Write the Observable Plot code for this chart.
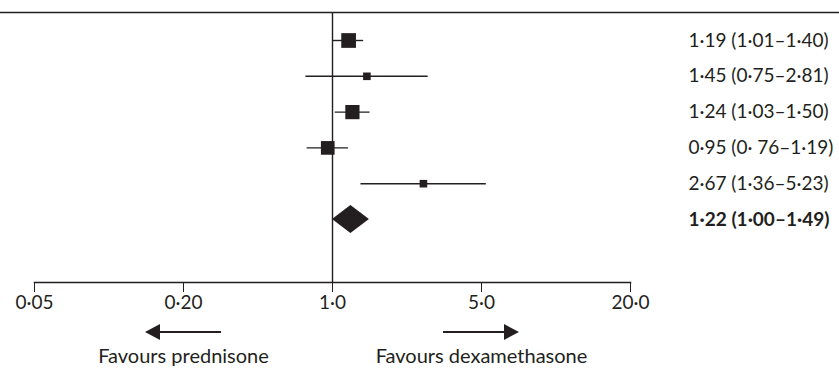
<!DOCTYPE html>
<html>
<head>
<meta charset="utf-8">
<script src="https://cdn.jsdelivr.net/npm/d3@7"></script>
<script src="https://cdn.jsdelivr.net/npm/@observablehq/plot@0.6"></script>
<style>
  html, body { margin: 0; padding: 0; background: #fff; }
</style>
</head>
<body>
<div id="chart"></div>
<script>
// Hazard ratios (95% CI) per study, dexamethasone vs prednisone
const studyEst = [1.19, 1.45, 1.24, 0.95, 2.67];
const studyLow = [1.01, 0.75, 1.03, 0.76, 1.36];
const studyHigh = [1.40, 2.81, 1.50, 1.19, 5.23];
const studyWeight = [30, 8, 28, 26, 8];

// Pooled estimate
const pooledEst = 1.22;
const pooledLow = 1.00;
const pooledHigh = 1.49;

// Text shown to the right of each row
const rowLabels = [
  "1·19 (1·01–1·40)",
  "1·45 (0·75–2·81)",
  "1·24 (1·03–1·50)",
  "0·95 (0· 76–1·19)",
  "2·67 (1·36–5·23)",
  "1·22 (1·00–1·49)"
];

// Axis ticks
const tickValues = [0.05, 0.2, 1, 5, 20];
const tickLabels = ["0·05", "0·20", "1·0", "5·0", "20·0"];

// Direction annotations under the axis
const favourLabels = ["Favours prednisone", "Favours dexamethasone"];
const favourAt = [0.2, 5];
const favourDir = [-1, 1];

const ink = "#231f20";

const studies = studyEst.map((est, i) => ({
  row: i, est, lo: studyLow[i], hi: studyHigh[i], w: studyWeight[i], label: rowLabels[i]
}));
const pooledRow = studies.length;
const halfH = 0.39; // half-height of the pooled diamond, in rows
const diamond = [
  {x: pooledLow, y1: pooledRow, y2: pooledRow},
  {x: pooledEst, y1: pooledRow - halfH, y2: pooledRow + halfH},
  {x: pooledHigh, y1: pooledRow, y2: pooledRow}
];
const ticks = tickValues.map((v, i) => ({v, label: tickLabels[i]}));
const favours = favourLabels.map((label, i) => ({label, at: favourAt[i], dir: favourDir[i]}));

const chart = Plot.plot({
  width: 839,
  height: 371,
  marginLeft: 34,
  marginRight: 209,
  marginTop: 12,
  marginBottom: 89,
  style: {fontFamily: "Lato, sans-serif", fontSize: "19px", color: ink, background: "#fff", overflow: "visible"},
  x: {
    type: "log",
    domain: tickValues,
    ticks: tickValues,
    tickFormat: () => "",
    tickSize: 10,
    tickPadding: 0,
    label: null
  },
  y: {domain: [0, pooledRow], range: [40, 219], axis: null},
  r: {type: "sqrt", domain: [0, 30], range: [0, 8.3]},
  marks: [
    Plot.frame({anchor: "top", stroke: ink, strokeWidth: 1.6, insetLeft: -34, insetRight: -209}),
    Plot.frame({anchor: "bottom", stroke: ink, strokeWidth: 1.6}),
    Plot.ruleX([1], {stroke: ink, strokeWidth: 1.4}),
    Plot.ruleY(studies, {y: "row", x1: "lo", x2: "hi", stroke: ink, strokeWidth: 1.4}),
    Plot.dot(studies, {x: "est", y: "row", r: "w", symbol: "square", fill: ink, stroke: null}),
    Plot.areaY(diamond, {x: "x", y1: "y1", y2: "y2", fill: ink}),
    // tick labels under the axis
    Plot.text(ticks, {x: "v", text: "label", frameAnchor: "bottom", dy: 26, fill: ink, fontSize: 19}),
    // estimate (95% CI) column
    Plot.text(studies, {y: "row", text: "label", frameAnchor: "right", dx: 58, textAnchor: "start", fill: ink, fontSize: 19}),
    Plot.text([rowLabels[pooledRow]], {y: () => pooledRow, text: d => d, frameAnchor: "right", dx: 58, textAnchor: "start", fill: ink, fontSize: 19, fontWeight: "bold"}),
    Plot.text(favours, {x: "at", text: "label", frameAnchor: "bottom", dy: 80, fill: ink, fontSize: 20})
  ]
});

document.getElementById("chart").appendChild(chart);

// Arrows under the axis, centred on each annotation's tick
const sx = chart.scale("x");
const yArrow = 371 - 89 + 50;
const half = 38, head = 15, headHalf = 8;
const g = d3.select(chart).append("g").attr("fill", ink).attr("stroke", ink);
favours.forEach(f => {
  const cx = sx.apply(f.at);
  const tip = cx + f.dir * half;
  const tail = cx - f.dir * half;
  g.append("line")
    .attr("x1", tail).attr("x2", tip - f.dir * (head - 1))
    .attr("y1", yArrow).attr("y2", yArrow)
    .attr("stroke-width", 2);
  g.append("path")
    .attr("stroke", "none")
    .attr("d", `M${tip},${yArrow}L${tip - f.dir * head},${yArrow - headHalf}L${tip - f.dir * head},${yArrow + headHalf}Z`);
});
</script>
</body>
</html>
